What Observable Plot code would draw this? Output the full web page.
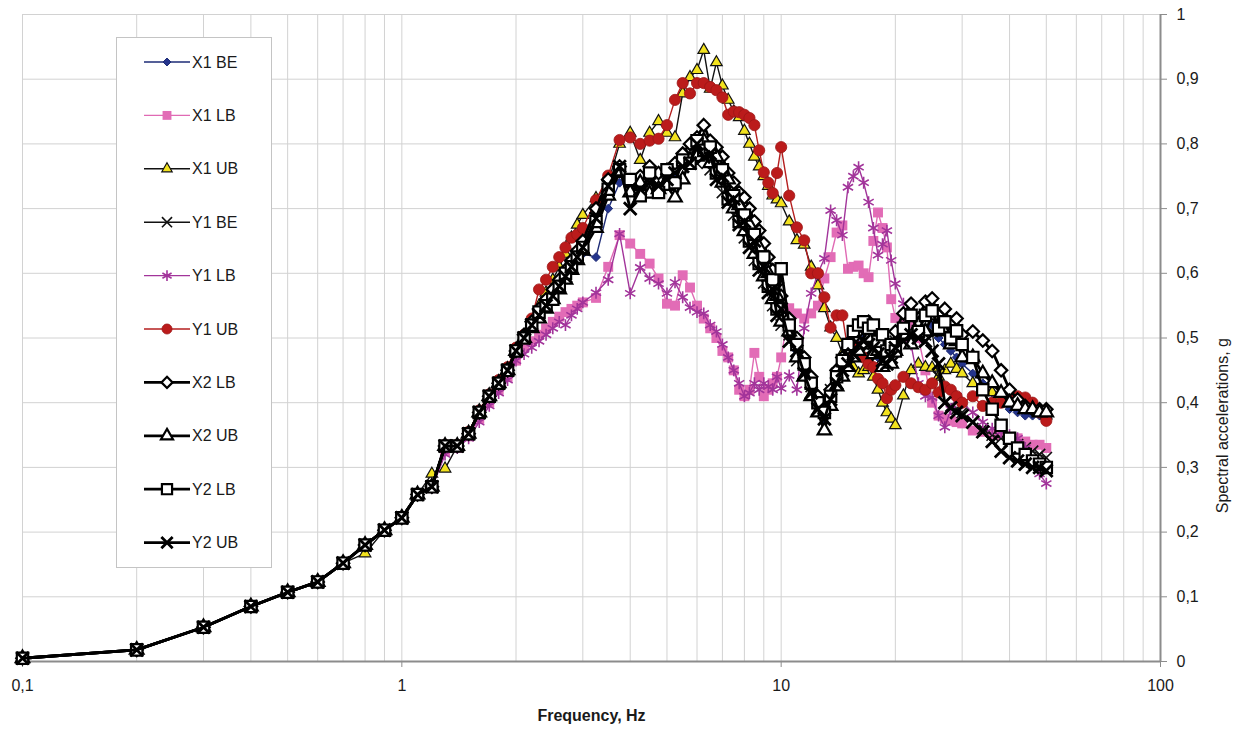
<!DOCTYPE html>
<html>
<head>
<meta charset="utf-8">
<script src="https://cdn.jsdelivr.net/npm/d3@7"></script>
<script src="https://cdn.jsdelivr.net/npm/@observablehq/plot@0.6"></script>
<style>
  body { margin: 0; background: #fff; }
  #chart { position: relative; width: 1239px; height: 735px; font-family: "Liberation Sans", Arial, sans-serif; }
  #legend { position: absolute; left: 116px; top: 37px; }
</style>
</head>
<body>
<div id="chart"></div>
<script>
// Floor response spectra: frequency (Hz) and spectral acceleration (g) per case.
const freq = [
  0.1, 0.2, 0.3, 0.4, 0.5, 0.6, 0.7, 0.8, 0.9, 1.0,
  1.1, 1.2, 1.3, 1.4, 1.5, 1.6, 1.7, 1.8, 1.9, 2.0,
  2.1, 2.2, 2.3, 2.4, 2.5, 2.6, 2.7, 2.8, 2.9, 3.0,
  3.25, 3.5, 3.75, 4.0, 4.25, 4.5, 4.75, 5.0, 5.25, 5.5,
  5.75, 6.0, 6.25, 6.5, 6.75, 7.0, 7.25, 7.5, 7.75, 8.0,
  8.25, 8.5, 8.75, 9.0, 9.25, 9.5, 9.75, 10.0, 10.5, 11,
  11.5, 12, 12.5, 13, 13.5, 14, 14.5, 15, 15.5, 16,
  16.5, 17, 17.5, 18, 18.5, 19, 19.5, 20, 21, 22,
  23, 24, 25, 26, 27, 28, 29, 30, 32, 34,
  36, 38, 40, 42, 44, 46, 48, 50
];

const x1BE = [
  0.005, 0.018, 0.053, 0.085, 0.107, 0.123, 0.152, 0.180, 0.203, 0.222,
  0.258, 0.270, 0.333, 0.333, 0.352, 0.385, 0.410, 0.430, 0.450, 0.480,
  0.500, 0.515, 0.535, 0.550, 0.565, 0.580, 0.595, 0.605, 0.620, 0.630,
  0.625, 0.700, 0.740, 0.745, 0.725, 0.750, 0.730, 0.755, 0.745, 0.770,
  0.775, 0.795, 0.790, 0.785, 0.755, 0.750, 0.715, 0.710, 0.680, 0.680,
  0.650, 0.645, 0.615, 0.610, 0.580, 0.580, 0.545, 0.540, 0.510, 0.480,
  0.450, 0.420, 0.395, 0.370, 0.410, 0.435, 0.450, 0.465, 0.480, 0.490,
  0.500, 0.495, 0.485, 0.470, 0.465, 0.470, 0.480, 0.490, 0.510, 0.500,
  0.505, 0.515, 0.520, 0.500, 0.490, 0.480, 0.470, 0.460, 0.445, 0.430,
  0.415, 0.400, 0.390, 0.385, 0.380, 0.380, 0.380, 0.380
];

const x1LB = [
  0.005, 0.018, 0.053, 0.085, 0.107, 0.123, 0.152, 0.180, 0.203, 0.222,
  0.258, 0.268, 0.325, 0.330, 0.348, 0.375, 0.400, 0.420, 0.440, 0.465,
  0.485, 0.495, 0.505, 0.515, 0.525, 0.533, 0.540, 0.545, 0.550, 0.555,
  0.562, 0.610, 0.659, 0.646, 0.630, 0.615, 0.592, 0.553, 0.550, 0.597,
  0.578, 0.550, 0.530, 0.515, 0.500, 0.480, 0.470, 0.450, 0.420, 0.410,
  0.420, 0.477, 0.440, 0.410, 0.420, 0.430, 0.440, 0.470, 0.546, 0.538,
  0.530, 0.538, 0.550, 0.592, 0.625, 0.663, 0.674, 0.607, 0.610, 0.612,
  0.600, 0.594, 0.650, 0.694, 0.670, 0.640, 0.560, 0.531, 0.527, 0.522,
  0.500, 0.450, 0.400, 0.380, 0.375, 0.372, 0.370, 0.368, 0.357, 0.355,
  0.350, 0.350, 0.345, 0.345, 0.340, 0.335, 0.335, 0.330
];

const x1UB = [
  0.005, 0.018, 0.053, 0.085, 0.107, 0.123, 0.152, 0.167, 0.203, 0.222,
  0.258, 0.290, 0.298, 0.333, 0.352, 0.385, 0.410, 0.430, 0.452, 0.482,
  0.500, 0.520, 0.550, 0.570, 0.590, 0.610, 0.630, 0.655, 0.675, 0.690,
  0.716, 0.740, 0.800, 0.817, 0.775, 0.817, 0.835, 0.817, 0.810, 0.878,
  0.903, 0.914, 0.945, 0.885, 0.926, 0.890, 0.868, 0.850, 0.841, 0.820,
  0.800, 0.780, 0.765, 0.750, 0.735, 0.720, 0.714, 0.708, 0.680, 0.651,
  0.644, 0.610, 0.581, 0.546, 0.516, 0.500, 0.476, 0.465, 0.455, 0.445,
  0.450, 0.455, 0.440, 0.420, 0.400, 0.385, 0.375, 0.365, 0.411, 0.450,
  0.460, 0.455, 0.454, 0.440, 0.450, 0.460, 0.452, 0.445, 0.430, 0.420,
  0.416, 0.410, 0.400, 0.395, 0.390, 0.390, 0.385, 0.380
];

const y1BE = [
  0.005, 0.018, 0.053, 0.085, 0.107, 0.123, 0.152, 0.180, 0.203, 0.222,
  0.258, 0.270, 0.333, 0.333, 0.352, 0.385, 0.410, 0.430, 0.450, 0.480,
  0.500, 0.520, 0.540, 0.555, 0.570, 0.585, 0.600, 0.615, 0.630, 0.645,
  0.690, 0.740, 0.760, 0.700, 0.735, 0.745, 0.735, 0.740, 0.755, 0.770,
  0.785, 0.770, 0.800, 0.760, 0.765, 0.725, 0.730, 0.690, 0.700, 0.655,
  0.665, 0.620, 0.625, 0.585, 0.590, 0.550, 0.560, 0.520, 0.505, 0.465,
  0.445, 0.425, 0.400, 0.385, 0.420, 0.445, 0.460, 0.470, 0.490, 0.505,
  0.510, 0.500, 0.490, 0.480, 0.470, 0.475, 0.485, 0.495, 0.500, 0.510,
  0.500, 0.505, 0.510, 0.440, 0.400, 0.395, 0.390, 0.385, 0.370, 0.360,
  0.350, 0.345, 0.340, 0.335, 0.330, 0.325, 0.320, 0.315
];

const y1LB = [
  0.005, 0.018, 0.053, 0.085, 0.107, 0.123, 0.152, 0.180, 0.203, 0.222,
  0.258, 0.268, 0.320, 0.330, 0.345, 0.370, 0.395, 0.415, 0.435, 0.465,
  0.475, 0.485, 0.495, 0.505, 0.515, 0.525, 0.520, 0.535, 0.545, 0.555,
  0.570, 0.590, 0.661, 0.569, 0.609, 0.592, 0.584, 0.569, 0.586, 0.563,
  0.547, 0.540, 0.538, 0.520, 0.510, 0.490, 0.470, 0.450, 0.430, 0.410,
  0.415, 0.430, 0.420, 0.430, 0.425, 0.420, 0.440, 0.422, 0.442, 0.420,
  0.515, 0.569, 0.600, 0.623, 0.697, 0.682, 0.659, 0.733, 0.750, 0.764,
  0.740, 0.710, 0.670, 0.628, 0.645, 0.666, 0.620, 0.584, 0.553, 0.490,
  0.430, 0.410, 0.408, 0.380, 0.362, 0.390, 0.410, 0.400, 0.385, 0.370,
  0.360, 0.355, 0.350, 0.345, 0.330, 0.310, 0.290, 0.275
];

const y1UB = [
  0.005, 0.018, 0.053, 0.085, 0.107, 0.123, 0.152, 0.180, 0.203, 0.222,
  0.258, 0.272, 0.335, 0.335, 0.355, 0.388, 0.413, 0.435, 0.455, 0.485,
  0.505, 0.530, 0.575, 0.590, 0.610, 0.625, 0.640, 0.655, 0.660, 0.670,
  0.713, 0.751, 0.806, 0.810, 0.800, 0.805, 0.808, 0.829, 0.868, 0.894,
  0.878, 0.894, 0.894, 0.888, 0.883, 0.872, 0.845, 0.850, 0.849, 0.845,
  0.840, 0.829, 0.790, 0.756, 0.740, 0.724, 0.755, 0.795, 0.720, 0.671,
  0.651, 0.600, 0.600, 0.563, 0.516, 0.535, 0.535, 0.480, 0.480, 0.486,
  0.470, 0.460, 0.455, 0.437, 0.430, 0.407, 0.420, 0.427, 0.440, 0.430,
  0.424, 0.420, 0.430, 0.416, 0.425, 0.420, 0.410, 0.400, 0.410, 0.395,
  0.400, 0.400, 0.410, 0.410, 0.408, 0.400, 0.385, 0.372
];

const x2LB = [
  0.005, 0.018, 0.053, 0.085, 0.107, 0.123, 0.152, 0.180, 0.203, 0.222,
  0.258, 0.270, 0.333, 0.333, 0.352, 0.385, 0.410, 0.430, 0.450, 0.480,
  0.505, 0.525, 0.545, 0.560, 0.575, 0.590, 0.605, 0.620, 0.635, 0.650,
  0.700, 0.745, 0.765, 0.740, 0.750, 0.765, 0.755, 0.760, 0.770, 0.785,
  0.800, 0.810, 0.829, 0.805, 0.795, 0.780, 0.755, 0.740, 0.725, 0.717,
  0.700, 0.680, 0.666, 0.646, 0.625, 0.605, 0.585, 0.565, 0.530, 0.500,
  0.470, 0.440, 0.410, 0.390, 0.420, 0.450, 0.470, 0.485, 0.500, 0.510,
  0.515, 0.525, 0.495, 0.500, 0.475, 0.490, 0.470, 0.510, 0.538, 0.553,
  0.530, 0.556, 0.561, 0.535, 0.545, 0.520, 0.530, 0.505, 0.510, 0.496,
  0.480, 0.450, 0.420, 0.405, 0.395, 0.390, 0.390, 0.390
];

const x2UB = [
  0.005, 0.018, 0.053, 0.085, 0.107, 0.123, 0.152, 0.180, 0.203, 0.222,
  0.258, 0.270, 0.333, 0.333, 0.352, 0.385, 0.410, 0.430, 0.450, 0.480,
  0.500, 0.515, 0.530, 0.545, 0.560, 0.575, 0.590, 0.605, 0.620, 0.635,
  0.670, 0.720, 0.755, 0.725, 0.740, 0.723, 0.730, 0.735, 0.717, 0.745,
  0.775, 0.780, 0.805, 0.770, 0.780, 0.740, 0.745, 0.700, 0.705, 0.665,
  0.675, 0.630, 0.640, 0.595, 0.600, 0.560, 0.565, 0.525, 0.510, 0.470,
  0.440, 0.410, 0.385, 0.357, 0.395, 0.425, 0.440, 0.455, 0.470, 0.480,
  0.490, 0.500, 0.475, 0.480, 0.455, 0.465, 0.460, 0.480, 0.505, 0.490,
  0.520, 0.510, 0.535, 0.510, 0.515, 0.490, 0.495, 0.470, 0.470, 0.445,
  0.430, 0.415, 0.400, 0.395, 0.390, 0.390, 0.385, 0.385
];

const y2LB = [
  0.005, 0.018, 0.053, 0.085, 0.107, 0.123, 0.152, 0.180, 0.203, 0.222,
  0.258, 0.270, 0.333, 0.333, 0.352, 0.385, 0.410, 0.430, 0.450, 0.480,
  0.500, 0.520, 0.540, 0.550, 0.560, 0.580, 0.600, 0.610, 0.625, 0.640,
  0.680, 0.730, 0.760, 0.745, 0.720, 0.755, 0.725, 0.760, 0.740, 0.775,
  0.770, 0.805, 0.790, 0.795, 0.755, 0.760, 0.715, 0.720, 0.680, 0.690,
  0.650, 0.660, 0.615, 0.625, 0.580, 0.590, 0.545, 0.607, 0.520, 0.490,
  0.460, 0.430, 0.400, 0.385, 0.410, 0.440, 0.465, 0.490, 0.510, 0.520,
  0.525, 0.515, 0.520, 0.495, 0.505, 0.480, 0.490, 0.480, 0.515, 0.535,
  0.510, 0.535, 0.542, 0.515, 0.525, 0.500, 0.511, 0.490, 0.470, 0.420,
  0.390, 0.365, 0.345, 0.330, 0.320, 0.310, 0.305, 0.300
];

const y2UB = [
  0.005, 0.018, 0.053, 0.085, 0.107, 0.123, 0.152, 0.180, 0.203, 0.222,
  0.258, 0.270, 0.333, 0.333, 0.352, 0.385, 0.410, 0.430, 0.450, 0.480,
  0.500, 0.520, 0.535, 0.550, 0.565, 0.580, 0.595, 0.610, 0.625, 0.640,
  0.685, 0.735, 0.765, 0.700, 0.730, 0.740, 0.735, 0.745, 0.755, 0.765,
  0.770, 0.800, 0.780, 0.785, 0.745, 0.750, 0.710, 0.715, 0.675, 0.680,
  0.640, 0.650, 0.605, 0.610, 0.570, 0.575, 0.535, 0.545, 0.495, 0.480,
  0.445, 0.415, 0.390, 0.375, 0.405, 0.430, 0.450, 0.460, 0.475, 0.490,
  0.495, 0.490, 0.485, 0.475, 0.465, 0.460, 0.470, 0.485, 0.495, 0.505,
  0.500, 0.495, 0.480, 0.460, 0.400, 0.392, 0.385, 0.380, 0.370, 0.355,
  0.340, 0.325, 0.315, 0.310, 0.305, 0.300, 0.300, 0.295
];

const seriesNames = ["X1 BE", "X1 LB", "X1 UB", "Y1 BE", "Y1 LB", "Y1 UB", "X2 LB", "X2 UB", "Y2 LB", "Y2 UB"];
const seriesValues = [x1BE, x1LB, x1UB, y1BE, y1LB, y1UB, x2LB, x2UB, y2LB, y2UB];

const xTicks = [0.1, 1, 10, 100];
const xTickLabels = ["0,1", "1", "10", "100"];
const yTicks = [0, 0.1, 0.2, 0.3, 0.4, 0.5, 0.6, 0.7, 0.8, 0.9, 1];
const yTickLabels = ["0", "0,1", "0,2", "0,3", "0,4", "0,5", "0,6", "0,7", "0,8", "0,9", "1"];

// Line and marker appearance of each case
const look = {
  "X1 BE": {line: "#1d2b76", lw: 1.4, symbol: "diamond2", r: 4.0, fill: "#24348c", stroke: "#1d2b76", sw: 1},
  "X1 LB": {line: "#e06ab4", lw: 1.4, symbol: "square",   r: 5.6, fill: "#e26cb6", stroke: "none",    sw: 0},
  "X1 UB": {line: "#111111", lw: 1.4, symbol: "triangle", r: 4.3, fill: "#f2e21e", stroke: "#111111", sw: 1.2},
  "Y1 BE": {line: "#111111", lw: 1.4, symbol: "times",    r: 5.2, fill: "none",    stroke: "#111111", sw: 1.6},
  "Y1 LB": {line: "#a2349a", lw: 1.4, symbol: "asterisk", r: 5.6, fill: "none",    stroke: "#a2349a", sw: 1.6},
  "Y1 UB": {line: "#b51f1f", lw: 1.4, symbol: "circle",   r: 5.6, fill: "#bb1b1b", stroke: "#9c1616", sw: 0.8},
  "X2 LB": {line: "#000000", lw: 2.8, symbol: "diamond2", r: 5.6, fill: "#ffffff", stroke: "#000000", sw: 2.2},
  "X2 UB": {line: "#000000", lw: 2.8, symbol: "triangle", r: 5.0, fill: "#ffffff", stroke: "#000000", sw: 2.2},
  "Y2 LB": {line: "#000000", lw: 2.8, symbol: "square",   r: 6.4, fill: "#ffffff", stroke: "#000000", sw: 2.2},
  "Y2 UB": {line: "#000000", lw: 2.8, symbol: "times",    r: 5.8, fill: "none",    stroke: "#000000", sw: 2.8}
};

const gridColor = "#d2d2d2";
const axisColor = "#8c8c8c";

// Vertical grid at every 1..9 multiple of each decade
const xGrid = d3.scaleLog().domain([0.1, 100]).ticks();

const seriesMarks = seriesNames.flatMap((name, k) => {
  const rows = freq.map((f, i) => ({f, v: seriesValues[k][i]}));
  const s = look[name];
  return [
    Plot.line(rows, {x: "f", y: "v", stroke: s.line, strokeWidth: s.lw}),
    Plot.dot(rows, {x: "f", y: "v", symbol: s.symbol, r: s.r, fill: s.fill, stroke: s.stroke, strokeWidth: s.sw})
  ];
});

const chart = Plot.plot({
  width: 1239,
  height: 735,
  marginLeft: 22,
  marginRight: 79,
  marginTop: 14,
  marginBottom: 74,
  style: {fontFamily: "'Liberation Sans', Arial, sans-serif", fontSize: "16px", color: "#1a1a1a", background: "#ffffff", overflow: "visible"},
  x: {type: "log", domain: [0.1, 100]},
  y: {domain: [0, 1]},
  marks: [
    Plot.gridX({ticks: xGrid, stroke: gridColor, strokeOpacity: 1, strokeWidth: 1}),
    Plot.gridY({ticks: yTicks, stroke: gridColor, strokeOpacity: 1, strokeWidth: 1}),
    Plot.axisX({ticks: xTicks, tickFormat: d => xTickLabels[xTicks.indexOf(d)], tickSize: 6, tickPadding: 12, stroke: axisColor, label: null}),
    Plot.axisY({anchor: "right", ticks: yTicks, tickFormat: d => yTickLabels[yTicks.indexOf(d)], tickSize: 6, tickPadding: 10, stroke: axisColor, label: null}),
    Plot.ruleY([0], {stroke: axisColor, strokeWidth: 2}),
    Plot.ruleX([100], {stroke: axisColor, strokeWidth: 2}),
    ...seriesMarks,
    Plot.text(["Frequency, Hz"], {frameAnchor: "bottom", dy: 59, fontWeight: "bold", fontSize: 16, fill: "#1a1a1a"}),
    Plot.text(["Spectral accelerations, g"], {frameAnchor: "right", dx: 62, rotate: -90, fontSize: 16, fill: "#1a1a1a"})
  ]
});

const container = document.getElementById("chart");
container.appendChild(chart);

// Legend box drawn over the plot area
const symbolTypes = {
  circle: d3.symbolCircle, square: d3.symbolSquare, triangle: d3.symbolTriangle,
  diamond2: d3.symbolDiamond2, times: d3.symbolTimes, asterisk: d3.symbolAsterisk
};
const legendW = 156, legendH = 531, rowStep = 53.4, rowTop = 25;
const legend = d3.create("svg")
  .attr("id", "legend")
  .attr("width", legendW)
  .attr("height", legendH)
  .style("font-family", "'Liberation Sans', Arial, sans-serif");
legend.append("rect")
  .attr("x", 0.5).attr("y", 0.5)
  .attr("width", legendW - 1).attr("height", legendH - 1)
  .attr("fill", "#ffffff").attr("stroke", "#c4c4c4");
seriesNames.forEach((name, i) => {
  const s = look[name];
  const g = legend.append("g").attr("transform", `translate(0,${rowTop + i * rowStep})`);
  g.append("line").attr("x1", 28).attr("x2", 74).attr("y1", 0).attr("y2", 0)
    .attr("stroke", s.line).attr("stroke-width", s.lw);
  g.append("path")
    .attr("d", d3.symbol(symbolTypes[s.symbol], Math.PI * s.r * s.r * 0.8)())
    .attr("transform", "translate(51,0)")
    .attr("fill", s.fill).attr("stroke", s.stroke).attr("stroke-width", s.sw);
  g.append("text").attr("x", 76).attr("y", 0).attr("dy", "0.35em")
    .attr("font-size", 16).attr("fill", "#1a1a1a").text(name);
});
container.appendChild(legend.node());
</script>
</body>
</html>
